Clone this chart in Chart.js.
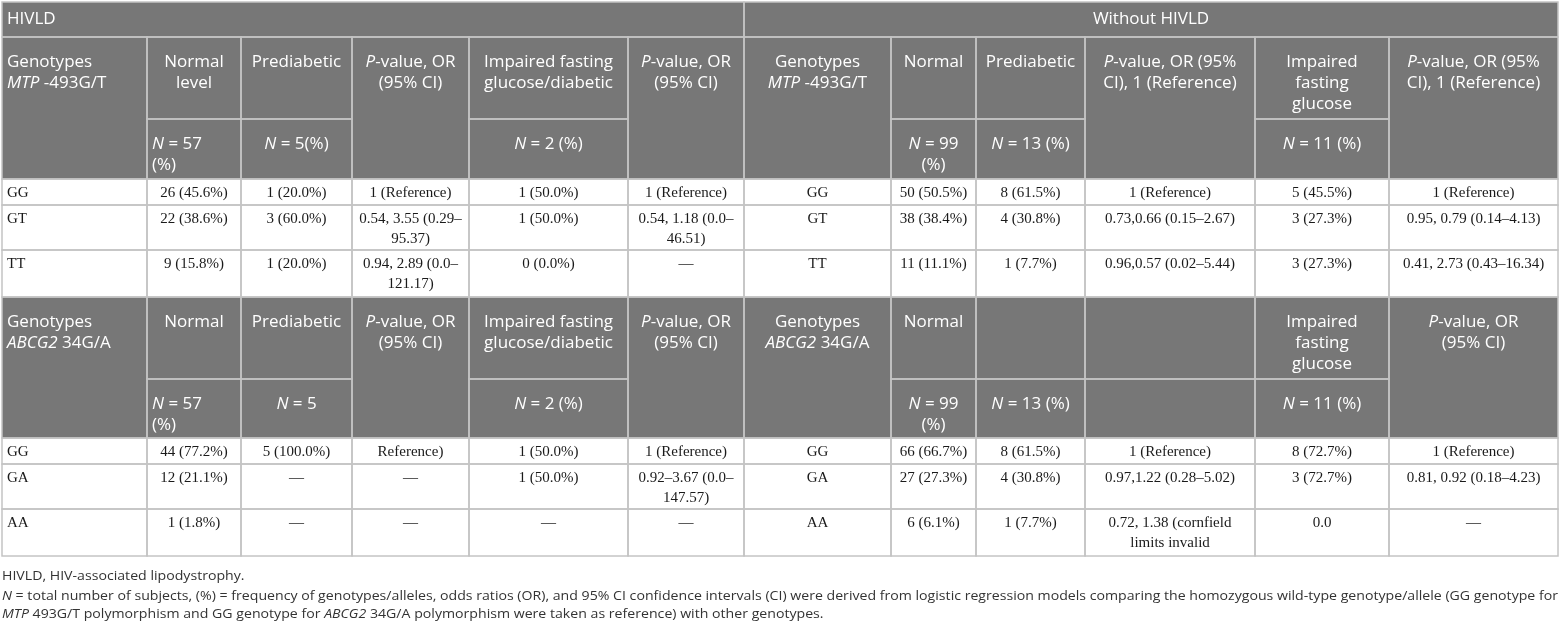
<!DOCTYPE html>
<html>
<head>
<meta charset="utf-8">
<title>MTP -493G/T and ABCG2 34G/A genotypes by glucose status</title>
<script src="https://cdn.jsdelivr.net/npm/chart.js@4.4.1/dist/chart.umd.min.js"></script>
<style>
  body { margin: 0; background: #fff; }
  canvas { display: block; }
</style>
</head>
<body>
<canvas id="genotypeTable" width="1561" height="625"></canvas>
<script>
const ctx = document.getElementById("genotypeTable");

// group titles
const groupLabels = ["HIVLD", "Without HIVLD"];

// MTP -493G/T block: header labels (null = no sub cell)
const mtpHeadTop = [
    ["Genotypes", "*MTP* -493G/T"], ["Normal", "level"], ["Prediabetic"], ["*P*-value, OR", "(95% CI)"],
    ["Impaired fasting", "glucose/diabetic"], ["*P*-value, OR", "(95% CI)"],
    ["Genotypes", "*MTP* -493G/T"], ["Normal"], ["Prediabetic"], ["*P*-value, OR (95%", "CI), 1 (Reference)"],
    ["Impaired", "fasting", "glucose"], ["*P*-value, OR (95%", "CI), 1 (Reference)"]
];
const mtpHeadSub = [
    null, ["*N* = 57", "(%)"], ["*N* = 5(%)"], null, ["*N* = 2 (%)"], null,
    null, ["*N* = 99", "(%)"], ["*N* = 13 (%)"], null, ["*N* = 11 (%)"], null
];
const mtpGenotypes = ["GG", "GT", "TT"];
const mtpHivldNormal = ["26 (45.6%)", "22 (38.6%)", "9 (15.8%)"];
const mtpHivldPrediabetic = ["1 (20.0%)", "3 (60.0%)", "1 (20.0%)"];
const mtpHivldPrediabeticOR = ["1 (Reference)", "0.54, 3.55 (0.29–95.37)", "0.94, 2.89 (0.0–121.17)"];
const mtpHivldImpaired = ["1 (50.0%)", "1 (50.0%)", "0 (0.0%)"];
const mtpHivldImpairedOR = ["1 (Reference)", "0.54, 1.18 (0.0–46.51)", "—"];
const mtpNoNormal = ["50 (50.5%)", "38 (38.4%)", "11 (11.1%)"];
const mtpNoPrediabetic = ["8 (61.5%)", "4 (30.8%)", "1 (7.7%)"];
const mtpNoPrediabeticOR = ["1 (Reference)", "0.73,0.66 (0.15–2.67)", "0.96,0.57 (0.02–5.44)"];
const mtpNoImpaired = ["5 (45.5%)", "3 (27.3%)", "3 (27.3%)"];
const mtpNoImpairedOR = ["1 (Reference)", "0.95, 0.79 (0.14–4.13)", "0.41, 2.73 (0.43–16.34)"];

// ABCG2 34G/A block
const abcgHeadTop = [
    ["Genotypes", "*ABCG2* 34G/A"], ["Normal"], ["Prediabetic"], ["*P*-value, OR", "(95% CI)"],
    ["Impaired fasting", "glucose/diabetic"], ["*P*-value, OR", "(95% CI)"],
    ["Genotypes", "*ABCG2* 34G/A"], ["Normal"], [], [],
    ["Impaired", "fasting", "glucose"], ["*P*-value, OR", "(95% CI)"]
];
const abcgHeadSub = [
    null, ["*N* = 57", "(%)"], ["*N* = 5"], null, ["*N* = 2 (%)"], null,
    null, ["*N* = 99", "(%)"], ["*N* = 13 (%)"], [], ["*N* = 11 (%)"], null
];
const abcgGenotypes = ["GG", "GA", "AA"];
const abcgHivldNormal = ["44 (77.2%)", "12 (21.1%)", "1 (1.8%)"];
const abcgHivldPrediabetic = ["5 (100.0%)", "—", "—"];
const abcgHivldPrediabeticOR = ["Reference)", "—", "—"];
const abcgHivldImpaired = ["1 (50.0%)", "1 (50.0%)", "—"];
const abcgHivldImpairedOR = ["1 (Reference)", "0.92–3.67 (0.0–147.57)", "—"];
const abcgNoNormal = ["66 (66.7%)", "27 (27.3%)", "6 (6.1%)"];
const abcgNoPrediabetic = ["8 (61.5%)", "4 (30.8%)", "1 (7.7%)"];
const abcgNoPrediabeticOR = ["1 (Reference)", "0.97,1.22 (0.28–5.02)", "0.72, 1.38 (cornfield\nlimits invalid"];
const abcgNoImpaired = ["8 (72.7%)", "3 (72.7%)", "0.0"];
const abcgNoImpairedOR = ["1 (Reference)", "0.81, 0.92 (0.18–4.23)", "—"];

const footnotes = [
    "HIVLD, HIV-associated lipodystrophy.",
    "*N* = total number of subjects, (%) = frequency of genotypes/alleles, odds ratios (OR), and 95% CI confidence intervals (CI) were derived from logistic regression models comparing the homozygous wild-type genotype/allele (GG genotype for",
    "*MTP* 493G/T polymorphism and GG genotype for *ABCG2* 34G/A polymorphism were taken as reference) with other genotypes."
];

// layout (scale units)
const colEdges = [2, 147, 241, 352, 469, 628, 744, 891, 976, 1085, 1255, 1389, 1558];
const groupRow = [2, 37];
const mtpHeadRows = [37, 119, 179];
const mtpRowEdges = [179, 205, 250, 297];
const abcgHeadRows = [297, 379, 438];
const abcgRowEdges = [438, 464, 509, 556];
const noteRows = [576, 596, 614];
const headAlignTop = ["left", "center", "center", "center", "center", "center", "center", "center", "center", "center", "center", "center"];
const headAlignSub = ["left", "left", "center", "center", "center", "center", "center", "center", "center", "center", "center", "center"];
const dataAlign = ["left", "center", "center", "center", "center", "center", "center", "center", "center", "center", "center", "center"];

const headColor = "#777777";
const lineColor = "#c4c4c4";
const sansFont = '"Open Sans"';
const serifFont = '"Liberation Serif"';

function toRuns(str){
    const out = [];
    str.split("*").forEach((p, i) => { if(p) out.push({ t: p, it: i % 2 === 1 }); });
    return out;
}

function runsWidth(c, runs, size, family){
    let w = 0;
    runs.forEach(r => {
        c.font = (r.it ? "italic " : "") + size + "px " + family;
        w += c.measureText(r.t).width;
    });
    return w;
}

function drawRuns(c, runs, x, y, size, family){
    runs.forEach(r => {
        c.font = (r.it ? "italic " : "") + size + "px " + family;
        c.fillText(r.t, x, y);
        x += c.measureText(r.t).width;
    });
}

// wrap at spaces and after en dashes, keep given line breaks
function wrapText(c, text, maxW){
    const lines = [];
    text.split("\n").forEach(part => {
        const pieces = [];
        part.split(" ").forEach((w, wi) => {
            w.split(/(?<=–)/).forEach((p, pi) => pieces.push({ t: p, sp: pi === 0 && wi > 0 }));
        });
        let line = "";
        pieces.forEach(p => {
            const cand = line ? line + (p.sp ? " " : "") + p.t : p.t;
            if(line && c.measureText(cand).width > maxW){
                lines.push(line);
                line = p.t;
            } else {
                line = cand;
            }
        });
        if(line) lines.push(line);
    });
    return lines;
}

//build cell list
function headerCells(rows, tops, subs){
    const cells = [];
    for(let i = 0; i < tops.length; i++){
        if(subs[i] === null){
            cells.push({ c0: i, c1: i + 1, y0: rows[0], y1: rows[2], lines: tops[i], align: headAlignTop[i], head: true });
        } else {
            cells.push({ c0: i, c1: i + 1, y0: rows[0], y1: rows[1], lines: tops[i], align: headAlignTop[i], head: true });
            cells.push({ c0: i, c1: i + 1, y0: rows[1], y1: rows[2], lines: subs[i], align: headAlignSub[i], head: true });
        }
    }
    return cells;
}

function dataCells(edges, columns){
    const cells = [];
    for(let r = 0; r < edges.length - 1; r++){
        columns.forEach((col, i) => {
            cells.push({ c0: i, c1: i + 1, y0: edges[r], y1: edges[r + 1], text: col[r], align: dataAlign[i], head: false });
        });
    }
    return cells;
}

const allCells = [
    { c0: 0, c1: 6, y0: groupRow[0], y1: groupRow[1], lines: [groupLabels[0]], align: "left", head: true, mid: true },
    { c0: 6, c1: 12, y0: groupRow[0], y1: groupRow[1], lines: [groupLabels[1]], align: "center", head: true, mid: true }
].concat(
    headerCells(mtpHeadRows, mtpHeadTop, mtpHeadSub),
    dataCells(mtpRowEdges, [mtpGenotypes, mtpHivldNormal, mtpHivldPrediabetic, mtpHivldPrediabeticOR, mtpHivldImpaired, mtpHivldImpairedOR,
        mtpGenotypes, mtpNoNormal, mtpNoPrediabetic, mtpNoPrediabeticOR, mtpNoImpaired, mtpNoImpairedOR]),
    headerCells(abcgHeadRows, abcgHeadTop, abcgHeadSub),
    dataCells(abcgRowEdges, [abcgGenotypes, abcgHivldNormal, abcgHivldPrediabetic, abcgHivldPrediabeticOR, abcgHivldImpaired, abcgHivldImpairedOR,
        abcgGenotypes, abcgNoNormal, abcgNoPrediabetic, abcgNoPrediabeticOR, abcgNoImpaired, abcgNoImpairedOR])
);

const tablePlugin = {
    id: "tablePlugin",
    afterDraw(chart){
        const c = chart.ctx;
        const xs = chart.scales.x, ys = chart.scales.y;
        const X = v => xs.getPixelForValue(v);
        const Y = v => ys.getPixelForValue(v);
        c.save();
        c.textBaseline = "middle";

        // fills
        allCells.forEach(cell => {
            const x0 = X(colEdges[cell.c0]), x1 = X(colEdges[cell.c1]);
            c.fillStyle = cell.head ? headColor : "#ffffff";
            c.fillRect(x0, Y(cell.y0), x1 - x0, Y(cell.y1) - Y(cell.y0));
        });
        // borders
        c.strokeStyle = lineColor;
        c.lineWidth = 1.5;
        allCells.forEach(cell => {
            const x0 = X(colEdges[cell.c0]), x1 = X(colEdges[cell.c1]);
            c.strokeRect(x0, Y(cell.y0), x1 - x0, Y(cell.y1) - Y(cell.y0));
        });
        // texts
        allCells.forEach(cell => {
            const x0 = X(colEdges[cell.c0]), x1 = X(colEdges[cell.c1]);
            const pad = 5;
            if(cell.head){
                const size = 17, lh = 21;
                let y = cell.mid ? (Y(cell.y0) + Y(cell.y1)) / 2 : Y(cell.y0) + 25;
                c.fillStyle = "#ffffff";
                cell.lines.forEach(l => {
                    const runs = toRuns(l);
                    const w = runsWidth(c, runs, size, sansFont);
                    const x = cell.align === "left" ? x0 + pad : (x0 + x1 - w) / 2;
                    drawRuns(c, runs, x, y, size, sansFont);
                    y += lh;
                });
            } else {
                c.font = "15px " + serifFont;
                c.fillStyle = "#1a1a1a";
                const lines = wrapText(c, cell.text, x1 - x0 - 6);
                let y = Y(cell.y0) + 14;
                lines.forEach(l => {
                    c.textAlign = cell.align === "left" ? "left" : "center";
                    c.fillText(l, cell.align === "left" ? x0 + pad : (x0 + x1) / 2, y);
                    y += 20;
                });
                c.textAlign = "left";
            }
        });

        // footnotes, squeezed to the table width like the source
        const noteSize = 13;
        const fullW = X(colEdges[colEdges.length - 1]) - X(colEdges[0]);
        const squeeze = fullW / runsWidth(c, toRuns(footnotes[1]), noteSize, sansFont);
        c.fillStyle = "#333333";
        footnotes.forEach((note, i) => {
            c.save();
            c.translate(X(colEdges[0]), Y(noteRows[i]));
            c.scale(squeeze, 1);
            drawRuns(c, toRuns(note), 0, 0, noteSize, sansFont);
            c.restore();
        });
        c.restore();
    }
};

const genotypeChart = new Chart(ctx, {
    type: "scatter",
    data: { datasets: [] },
    options: {
        responsive: false,
        animation: false,
        layout: { padding: 0 },
        plugins: { legend: { display: false }, tooltip: { enabled: false } },
        scales: {
            x: { type: "linear", min: 0, max: 1561, display: false },
            y: { type: "linear", min: 0, max: 625, reverse: true, display: false }
        }
    },
    plugins: [tablePlugin]
});
</script>
</body>
</html>
